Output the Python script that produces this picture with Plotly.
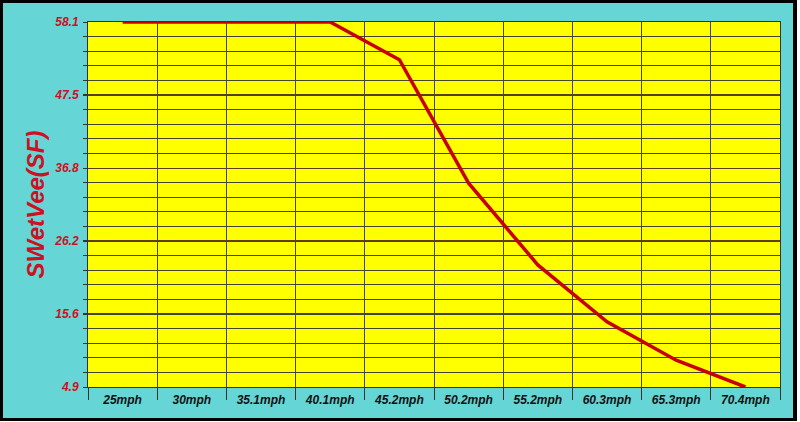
import plotly.graph_objects as go

categories = ["25mph", "30mph", "35.1mph", "40.1mph", "45.2mph",
              "50.2mph", "55.2mph", "60.3mph", "65.3mph", "70.4mph"]
values = [58.1, 58.1, 58.1, 58.1, 52.6, 34.6, 22.7, 14.4, 8.8, 4.9]
y_tick_labels = ["4.9", "15.6", "26.2", "36.8", "47.5", "58.1"]
y_title = "SWetVee(SF)"

W, H = 800, 422
L, R, T, B = 88, 20, 22, 35
pw, ph = W - L - R, H - T - B

def px_x(p):
    return (p - L) / pw

def px_y(p):
    return (H - B - p) / ph

def strip(x0, y0, x1, y1, color):
    return dict(type="rect", xref="paper", yref="paper",
                x0=px_x(x0), x1=px_x(x1), y0=px_y(y1), y1=px_y(y0),
                line=dict(width=0), fillcolor=color, layer="above")

y_ticks = [float(s) for s in y_tick_labels]
y_min, y_max = y_ticks[0], y_ticks[-1]

fig = go.Figure()
fig.add_trace(go.Scatter(
    x=categories, y=values, mode="lines",
    line=dict(color="#C80000", width=3.5),
    hoverinfo="x+y",
))

FONT = "Liberation Sans, Arial, sans-serif"
GRID = "#444433"

frame = [
    strip(0, 0, W, 3, "#000000"),        # top
    strip(0, 0, 3, H, "#000000"),        # left
    strip(793, 0, 797, 421, "#000000"),  # right
    strip(0, 418, 797, 421, "#000000"),  # bottom
    strip(797, 0, W, H, "#FFFFFF"),
    strip(0, 421, W, H, "#FFFFFF"),
]

fig.update_layout(
    width=W, height=H,
    margin=dict(l=L, r=R, t=T, b=B),
    paper_bgcolor="#66D5D5",
    plot_bgcolor="#FFFF00",
    showlegend=False,
    xaxis=dict(
        type="category",
        automargin=False,
        tickson="boundaries",
        ticks="outside", ticklen=12, tickcolor="#333333", tickwidth=1,
        ticklabelstandoff=2,
        showgrid=True, gridcolor=GRID, gridwidth=1,
        tickfont=dict(family=FONT, size=12, color="#111111", weight="bold", style="italic"),
        showline=True, linecolor="#333333", linewidth=1, mirror=True,
        range=[-0.5, len(categories) - 0.5],
        fixedrange=True,
    ),
    yaxis=dict(
        automargin=False,
        range=[y_min, y_max],
        tickmode="array", tickvals=y_ticks, ticktext=y_tick_labels,
        ticks="outside", ticklen=4, tickcolor="#333333",
        ticklabelstandoff=2,
        showgrid=True, gridcolor="#5A4020", gridwidth=1,
        minor=dict(tick0=y_min, dtick=(y_max - y_min) / 25, showgrid=True,
                   gridcolor=GRID, gridwidth=1, ticks="outside", ticklen=4,
                   tickcolor="#333333"),
        tickfont=dict(family=FONT, size=12, color="#CC1122", weight="bold", style="italic"),
        showline=True, linecolor="#333333", linewidth=1, mirror=True,
        zeroline=False,
        title=dict(text=y_title, standoff=2,
                   font=dict(family=FONT, size=24, color="#CC1122", weight="bold", style="italic")),
        fixedrange=True,
    ),
    shapes=frame,
)

fig.write_html("out.html", config={"displayModeBar": False})

with open("out.html", "r", encoding="utf-8") as f:
    html = f.read()
html = html.replace("<head>", "<head><style>html,body{margin:0;padding:0;overflow:hidden;background:#ffffff;}</style>", 1)
with open("out.html", "w", encoding="utf-8") as f:
    f.write(html)
